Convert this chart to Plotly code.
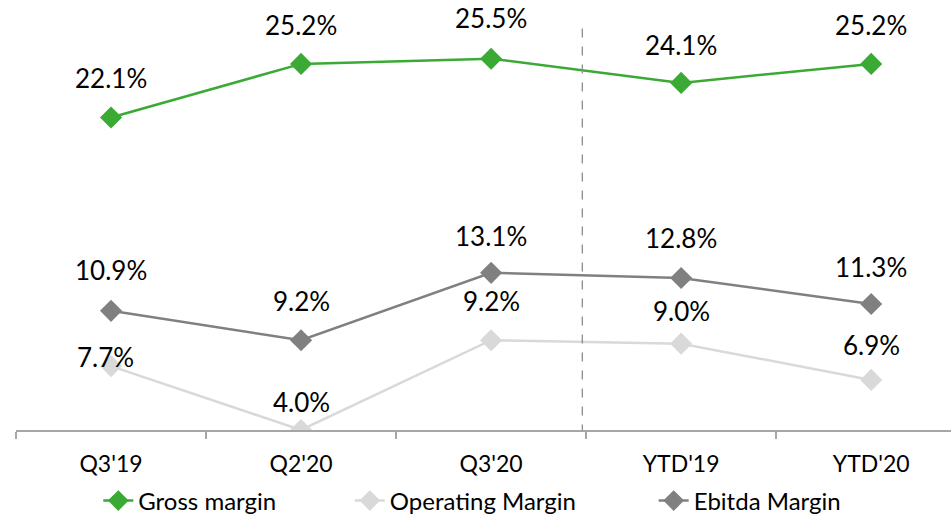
import plotly.graph_objects as go

categories = ["Q3'19", "Q2'20", "Q3'20", "YTD'19", "YTD'20"]
gross_margin = [22.1, 25.2, 25.5, 24.1, 25.2]
operating_margin = [7.7, 4.0, 9.2, 9.0, 6.9]
ebitda_margin = [10.9, 9.2, 13.1, 12.8, 11.3]

FONT = "Lato"
GREEN = "#3aaa35"
LIGHT = "#d9d9d9"
DARK = "#808080"

fig = go.Figure()

series = [
    ("Gross margin", gross_margin, GREEN, "legend"),
    ("Operating Margin", operating_margin, LIGHT, "legend2"),
    ("Ebitda Margin", ebitda_margin, DARK, "legend3"),
]
# draw order: operating under ebitda
for name, vals, col, lg in [series[1], series[2], series[0]]:
    fig.add_trace(go.Scatter(
        x=categories, y=vals, name=name, mode="lines+markers",
        line=dict(color=col, width=2.5),
        marker=dict(symbol="diamond", size=17, color=col),
        legend=lg,
    ))

# label offsets (pixels above the marker)
shifts = {
    "Gross margin": [39, 39, 41, 38, 39],
    "Operating Margin": [9, 28, 39, 33, 35],
    "Ebitda Margin": [41, 39, 37, 40, 37],
}
xshifts = {"Operating Margin": [-6, 0, 0, 0, 0]}
annotations = []
for name, vals, col, lg in series:
    for i, (c, v) in enumerate(zip(categories, vals)):
        annotations.append(dict(
            x=c, y=v, xref="x", yref="y", text=f"{v:.1f}%",
            showarrow=False, yshift=shifts[name][i],
            xshift=xshifts.get(name, [0] * 5)[i],
            font=dict(family=FONT, size=26, color="#000000"),
        ))

fig.add_shape(type="line", xref="x", yref="y", x0=2.48, x1=2.48, y0=3.8, y1=27.7,
              line=dict(color="#8c8c8c", width=1.3, dash="dash"))

leg_common = dict(orientation="h", yanchor="middle", y=-0.165, xanchor="left",
                  font=dict(family=FONT, size=24, color="#000000"),
                  bgcolor="rgba(0,0,0,0)", itemwidth=30)

fig.update_layout(
    width=951, height=519,
    margin=dict(l=16, r=0, t=0, b=89, autoexpand=False),
    paper_bgcolor="white", plot_bgcolor="white",
    showlegend=True,
    legend=dict(x=0.088, **leg_common),
    legend2=dict(x=0.357, **leg_common),
    legend3=dict(x=0.682, **leg_common),
    annotations=annotations,
    xaxis=dict(
        type="category", range=[-0.5, 4.42],
        showline=True, linecolor="#a6a6a6", linewidth=1.5,
        ticks="outside", tickson="boundaries", ticklen=7, tickcolor="#a6a6a6", tickwidth=1.5,
        showgrid=False, zeroline=False,
        tickfont=dict(family=FONT, size=23, color="#000000"),
        ticklabelstandoff=13,
    ),
    yaxis=dict(range=[4, 28.9], visible=False, showgrid=False, zeroline=False),
)

fig.write_html("out.html", config={"displayModeBar": False},
               post_script="document.body.style.margin='0';")
